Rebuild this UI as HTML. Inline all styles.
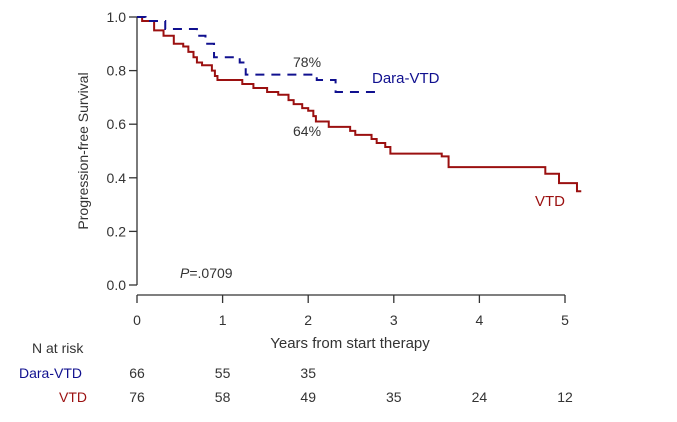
<!DOCTYPE html>
<html><head><style>
body{margin:0;background:#fff;width:677px;height:417px;overflow:hidden}
svg{font-family:"Liberation Sans",Arial,sans-serif}
</style></head><body>
<svg id="c" width="677" height="417"></svg>
<script>
const xTicks=[0,1,2,3,4,5];
const yTicks=[0.0,0.2,0.4,0.6,0.8,1.0];
const vtdT=[0,0.06,0.2,0.31,0.43,0.54,0.6,0.66,0.7,0.76,0.875,0.91,0.94,1.23,1.36,1.52,1.65,1.77,1.83,1.93,2.0,2.06,2.09,2.24,2.49,2.55,2.74,2.8,2.9,2.96,3.56,3.64,4.77,4.93,5.14,5.19];
const vtdS=[1,0.985,0.95,0.93,0.90,0.89,0.87,0.85,0.83,0.82,0.80,0.78,0.765,0.75,0.735,0.72,0.71,0.69,0.675,0.66,0.65,0.63,0.61,0.59,0.575,0.56,0.545,0.53,0.515,0.49,0.48,0.44,0.415,0.38,0.35,0.35];
const daraT=[0,0.1,0.33,0.7,0.8,0.9,1.2,1.27,2.1,2.32,2.83];
const daraS=[1,0.985,0.955,0.93,0.90,0.85,0.83,0.785,0.765,0.72,0.72];
const riskDara=[66,55,35];
const riskVtd=[76,58,49,35,24,12];
const NS="http://www.w3.org/2000/svg";
const svg=document.getElementById('c');
const X=t=>137+t*85.6, Y=s=>285-s*268;
function el(tag,attrs,txt){const e=document.createElementNS(NS,tag);for(const k in attrs)e.setAttribute(k,attrs[k]);if(txt!==undefined)e.textContent=txt;svg.appendChild(e);return e;}
let a=el('line',{x1:137,y1:17,x2:137,y2:285,stroke:'#333','stroke-width':1.3});

a=el('line',{x1:137,y1:295,x2:X(5),y2:295,stroke:'#333','stroke-width':1.3});

yTicks.forEach(v=>{
 let t=el('line',{x1:129,x2:137,y1:Y(v),y2:Y(v),stroke:'#333','stroke-width':1.3});
 
 let l=el('text',{x:126,y:Y(v)+5,'text-anchor':'end','font-size':14,fill:'#333'},v.toFixed(1));
 
});
xTicks.forEach(v=>{
 let t=el('line',{x1:X(v),x2:X(v),y1:295,y2:303,stroke:'#333','stroke-width':1.3});
 
 let l=el('text',{x:X(v),y:325,'text-anchor':'middle','font-size':14,fill:'#333'},v);
 
});
function step(T,S){let d='M'+X(T[0])+','+Y(S[0]);for(let i=1;i<T.length;i++){d+='H'+X(T[i])+'V'+Y(S[i]);}return d;}
let p=el('path',{d:step(vtdT,vtdS),fill:'none',stroke:'#9b1010','stroke-width':2});

p=el('path',{d:step(daraT,daraS),fill:'none',stroke:'#10108f','stroke-width':2,'stroke-dasharray':'9,7'});

let lab=el('text',{x:88,y:151,'text-anchor':'middle','font-size':14,fill:'#333',transform:'rotate(-90 88 151)'},'Progression-free Survival');

lab=el('text',{x:350,y:348,'text-anchor':'middle','font-size':15,fill:'#333'},'Years from start therapy');

lab=el('text',{x:293,y:67,'font-size':14,fill:'#333'},'78%');

lab=el('text',{x:293,y:136,'font-size':14,fill:'#333'},'64%');

lab=el('text',{x:372,y:83,'font-size':15,fill:'#10108f'},'Dara-VTD');

lab=el('text',{x:535,y:206,'font-size':15,fill:'#9b1010'},'VTD');

lab=el('text',{x:180,y:278,'font-size':14,fill:'#333'});
lab.innerHTML='<tspan font-style="italic">P</tspan>=.0709';

lab=el('text',{x:32,y:353,'font-size':14,fill:'#333'},'N at risk');

lab=el('text',{x:19,y:378,'font-size':14,fill:'#10108f'},'Dara-VTD');

lab=el('text',{x:59,y:402,'font-size':14,fill:'#9b1010'},'VTD');

riskDara.forEach((n,i)=>{let t=el('text',{x:X(xTicks[i]),y:378,'text-anchor':'middle','font-size':14,fill:'#333'},n);
 });
riskVtd.forEach((n,i)=>{let t=el('text',{x:X(xTicks[i]),y:402,'text-anchor':'middle','font-size':14,fill:'#333'},n);
 });
</script>
</body></html>
